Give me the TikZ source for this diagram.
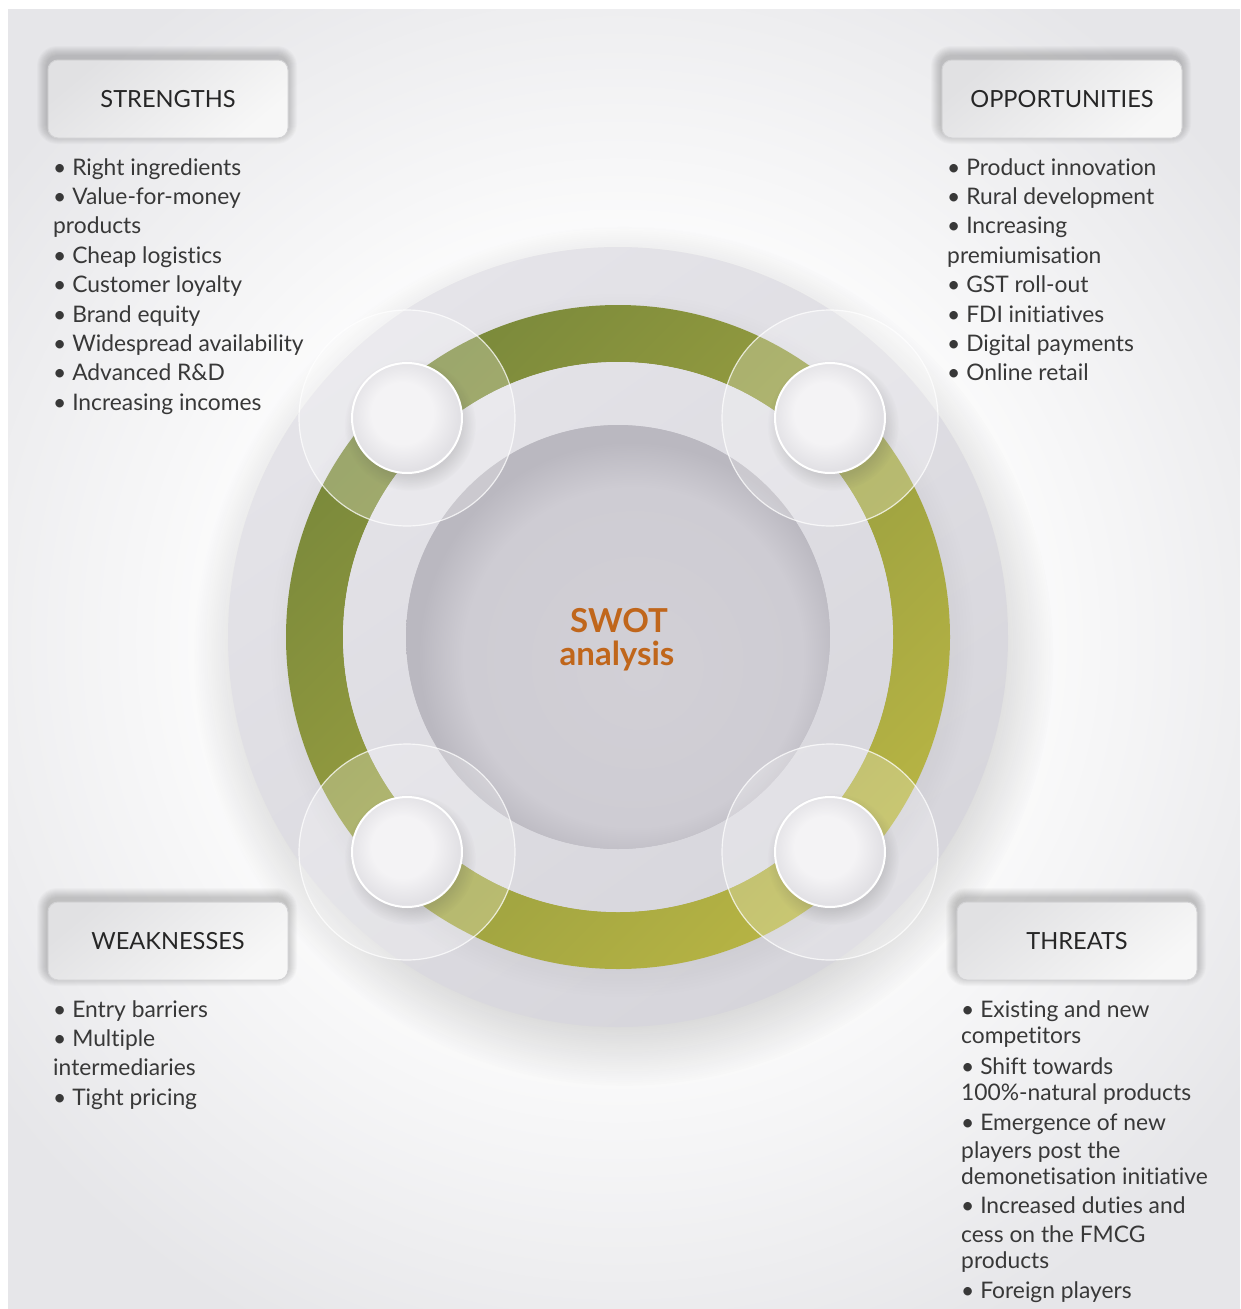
\documentclass[tikz,border=0pt]{standalone}
\usepackage{fontspec}
\setmainfont{Lato}[Ligatures=NoCommon]
\usetikzlibrary{fadings}
\definecolor{bgc}{HTML}{E6E6E9}
\definecolor{discA}{HTML}{E5E4E9}
\definecolor{discB}{HTML}{D6D5DB}
\definecolor{bandA}{HTML}{E3E2E7}
\definecolor{bandB}{HTML}{D8D7DD}
\definecolor{cenA}{HTML}{D2D0D6}
\definecolor{cenB}{HTML}{CECCD3}
\definecolor{cenC}{HTML}{BAB8C0}
\definecolor{gDark}{HTML}{7A893B}
\definecolor{gLight}{HTML}{B7B444}
\definecolor{swotor}{HTML}{C0661B}
\definecolor{txt}{HTML}{383838}
\definecolor{smA}{HTML}{F4F3F5}
\definecolor{smB}{HTML}{E2E1E5}
\definecolor{boxA}{HTML}{E1E1E3}
\definecolor{boxB}{HTML}{F7F7F7}
\definecolor{boxE}{HTML}{D2D2D4}

\pgfdeclareradialshading{halosh}{\pgfpointorigin}{color(0bp)=(white); color(12bp)=(white); color(25bp)=(black); color(50bp)=(black)}
\pgfdeclarefading{halofade}{\pgfuseshading{halosh}}
\pgfdeclareradialshading{softsh}{\pgfpointorigin}{color(0bp)=(white); color(19bp)=(white); color(25bp)=(black); color(50bp)=(black)}
\pgfdeclarefading{softfade}{\pgfuseshading{softsh}}
\pgfdeclareradialshading{cdisc}{\pgfpoint{3bp}{-4bp}}{color(0bp)=(cenA); color(20bp)=(cenB); color(25bp)=(cenC); color(50bp)=(cenC)}
\pgfdeclareradialshading{smsh}{\pgfpoint{-3bp}{3bp}}{color(0bp)=(smA); color(14bp)=(smA); color(25bp)=(smB); color(50bp)=(smB)}

\newcommand{\boxshadow}[2]{%
  \foreach \k in {1,...,10}
    \fill[black, fill opacity=0.02, rounded corners={(10+\k)*1pt}]
      ({#1-120-\k},{#2-39-\k-4}) rectangle ({#1+120+\k},{#2+39+\k-4});}

\tikzset{
  hbox/.style={rounded corners=10pt, minimum width=240pt, minimum height=78pt,
    inner sep=0pt, font=\fontsize{23.6}{28}\selectfont, text=black!85,
    top color=boxA, bottom color=boxB, shading angle=40, draw=boxE, line width=1pt},
  blt/.style={anchor=base west, inner sep=0pt, font=\fontsize{22.8}{26}\selectfont, text=txt},
  swt/.style={anchor=base, inner sep=0pt, font=\bfseries\fontsize{33}{36}\selectfont, text=swotor},
  glass/.style={fill=white, fill opacity=0.25, draw=white, draw opacity=0.75, line width=1.2pt},
  smallc/.style={shading=smsh, draw=white, line width=2pt}
}

\begin{document}
\begin{tikzpicture}[x=1pt,y=-1pt]
\useasboundingbox (0,0) rectangle (1240,1309);
\fill[white] (0,0) rectangle (1240,1309);
\coordinate (c) at (618,637);
\begin{scope}
  \clip (8,9) rectangle (1240,1309);
  \fill[bgc] (8,9) rectangle (1240,1309);
  \fill[white, fill opacity=0.92, path fading=halofade] (618,640) circle (780pt);
  \fill[black, fill opacity=0.22, path fading=softfade] (624,656) circle (430pt);
\end{scope}

% outer disc
\shade[top color=discA, bottom color=discB, shading angle=35] (c) circle (390pt);
% shadow of the green ring on the outer band
\fill[black, fill opacity=0.10, path fading=softfade] (622,645) circle (352pt);
% green ring
\shade[top color=gDark, bottom color=gLight, shading angle=45, even odd rule]
  (c) circle (332pt) (c) circle (275pt);
% inner band
\shade[top color=bandA, bottom color=bandB, shading angle=35, even odd rule]
  (c) circle (275pt) (c) circle (212pt);
% centre disc
\shade[shading=cdisc] (c) circle (212pt);

\node[swt] (swot1) at (619,632) {SWOT};
\node[swt] (swot2) at (617,665) {analysis};

% glass circles and small circles
\foreach \px/\py [count=\i] in {407/418, 830/418, 407/852, 830/852}{
  \fill[black, fill opacity=0.16, path fading=softfade] (\px+3,\py+7) circle (66pt);
  \path[glass] (\px,\py) circle (108pt);
  \path[smallc] (\px,\py) circle (55pt);
}

% header boxes
\boxshadow{167}{99}
\boxshadow{1061}{99}
\boxshadow{167}{941}
\boxshadow{1076}{941}
\node[hbox] (hS) at (168,99) {STRENGTHS};
\node[hbox] (hO) at (1062,99) {OPPORTUNITIES};
\node[hbox] (hW) at (168,941) {WEAKNESSES};
\node[hbox] (hT) at (1077,941) {THREATS};

% strengths
\foreach \t [count=\i] in {{• Right ingredients},{• Value-for-money},{products},{• Cheap logistics},{• Customer loyalty},{• Brand equity},{• Widespread availability},{• Advanced R\&D},{• Increasing incomes}}
  \node[blt] (s\i) at (53,{175+(\i-1)*29.4}) {\t};
% opportunities
\foreach \t [count=\i] in {{• Product innovation},{• Rural development},{• Increasing},{premiumisation},{• GST roll-out},{• FDI initiatives},{• Digital payments},{• Online retail}}
  \node[blt] (o\i) at (947,{175+(\i-1)*29.4}) {\t};
% weaknesses
\foreach \t [count=\i] in {{• Entry barriers},{• Multiple},{intermediaries},{• Tight pricing}}
  \node[blt] (w\i) at (53,{1017+(\i-1)*29.4}) {\t};
% threats
\foreach \yy/\t [count=\i] in {1017/{• Existing and new},1043/{competitors},1074/{• Shift towards},1100/{100\%-natural products},1130/{• Emergence of new},1158/{players post the},1184/{demonetisation initiative},1213/{• Increased duties and},1242/{cess on the FMCG},1268/{products},1298/{• Foreign players}}
  \node[blt] (t\i) at (961,\yy) {\t};
\end{tikzpicture}
\end{document}
